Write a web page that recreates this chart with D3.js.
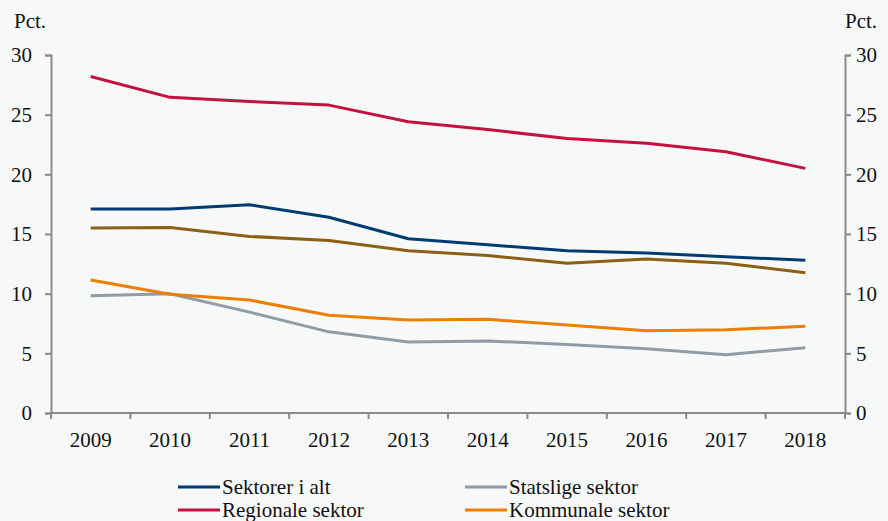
<!DOCTYPE html>
<html>
<head>
<meta charset="utf-8">
<script src="https://cdn.jsdelivr.net/npm/d3@7"></script>
<style>
  html, body { margin: 0; padding: 0; background: #f7f9f9; }
  svg { display: block; }
  svg text { font-family: "Times New Roman", "Liberation Serif", "DejaVu Serif", "Noto Serif", Tinos, FreeSerif, serif; }
</style>
</head>
<body>
<svg id="chart" width="888" height="521"></svg>
<script>
const years = ["2009", "2010", "2011", "2012", "2013", "2014", "2015", "2016", "2017", "2018"];
const yTicks = [0, 5, 10, 15, 20, 25, 30];

const sektorerIAlt = [17.1, 17.1, 17.45, 16.4, 14.6, 14.1, 13.6, 13.4, 13.1, 12.8];
const regionaleSektor = [28.2, 26.45, 26.1, 25.8, 24.4, 23.75, 23.0, 22.6, 21.9, 20.5];
const statsligeSektor = [9.83, 10.0, 8.45, 6.8, 5.95, 6.04, 5.73, 5.39, 4.89, 5.47];
const kommunaleSektor = [11.15, 9.95, 9.47, 8.19, 7.8, 7.85, 7.38, 6.9, 6.98, 7.27];
const ukendtSektor = [15.5, 15.55, 14.8, 14.45, 13.6, 13.2, 12.55, 12.9, 12.55, 11.75];

// drawn in this order; brown series has no legend entry
const series = [
  { name: "Statslige sektor", values: statsligeSektor, color: "#8f9ca6" },
  { name: "Kommunale sektor", values: kommunaleSektor, color: "#ee7d00" },
  { name: null, values: ukendtSektor, color: "#8b5f14" },
  { name: "Sektorer i alt", values: sektorerIAlt, color: "#003b71" },
  { name: "Regionale sektor", values: regionaleSektor, color: "#c4113f" }
];

const legendItems = ["Sektorer i alt", "Statslige sektor", "Regionale sektor", "Kommunale sektor"];

const fontSize = 21;

const svg = d3.select("#chart");
const plotLeft = 51;
const plotRight = 845;
const plotTop = 55;
const plotBottom = 413;
const axisColor = "#8a8a8a";

const x = d3.scaleBand().domain(years).range([plotLeft, plotRight]);
const y = d3.scaleLinear().domain([0, 30]).range([plotBottom, plotTop]);

function styleAxis(g, labelX) {
  g.attr("font-family", null).attr("font-size", fontSize);
  g.select(".domain").attr("stroke", axisColor).attr("stroke-width", 2);
  g.selectAll(".tick line").attr("stroke", axisColor).attr("stroke-width", 2);
  g.selectAll("text").attr("x", labelX).attr("fill", "#111");
}

// left axis
svg.append("g")
  .attr("transform", `translate(${plotLeft},0)`)
  .call(d3.axisLeft(y).tickValues(yTicks).tickSize(6).tickSizeOuter(6))
  .call((g) => styleAxis(g, -19));

// right axis
svg.append("g")
  .attr("transform", `translate(${plotRight},0)`)
  .call(d3.axisRight(y).tickValues(yTicks).tickSize(6).tickSizeOuter(6))
  .call((g) => styleAxis(g, 11));

// x axis with ticks at band edges
const xAxisG = svg.append("g").attr("transform", `translate(0,${plotBottom})`);
xAxisG.append("line")
  .attr("x1", plotLeft).attr("x2", plotRight)
  .attr("stroke", axisColor).attr("stroke-width", 2);
const edges = years.map((d) => x(d)).concat([plotRight]);
xAxisG.selectAll(".edge")
  .data(edges)
  .join("line")
  .attr("x1", (d) => d).attr("x2", (d) => d)
  .attr("y1", 0).attr("y2", 6)
  .attr("stroke", axisColor).attr("stroke-width", 2);
xAxisG.selectAll(".lbl")
  .data(years)
  .join("text")
  .attr("x", (d) => x(d) + x.bandwidth() / 2)
  .attr("y", 34)
  .attr("text-anchor", "middle")
  .attr("font-size", fontSize)
  .attr("fill", "#111")
  .text((d) => d);

svg.append("text").attr("x", 14).attr("y", 28).attr("font-size", fontSize).attr("fill", "#111").text("Pct.");
svg.append("text").attr("x", 845).attr("y", 28).attr("font-size", fontSize).attr("fill", "#111").text("Pct.");

const line = d3.line()
  .x((d, i) => x(years[i]) + x.bandwidth() / 2)
  .y((d) => y(d));

svg.append("g")
  .selectAll("path")
  .data(series)
  .join("path")
  .attr("fill", "none")
  .attr("stroke", (d) => d.color)
  .attr("stroke-width", 3)
  .attr("stroke-linejoin", "round")
  .attr("d", (d) => line(d.values));

// legend
const legendPos = [
  { lx: 178, ly: 487 },
  { lx: 465, ly: 487 },
  { lx: 178, ly: 510 },
  { lx: 465, ly: 510 }
];
const legend = svg.append("g");
legendItems.forEach((name, i) => {
  const s = series.find((d) => d.name === name);
  const p = legendPos[i];
  legend.append("line")
    .attr("x1", p.lx).attr("x2", p.lx + 42)
    .attr("y1", p.ly).attr("y2", p.ly)
    .attr("stroke", s.color).attr("stroke-width", 3);
  legend.append("text")
    .attr("x", p.lx + 44)
    .attr("y", p.ly + 7)
    .attr("font-size", fontSize)
    .attr("fill", "#111")
    .text(name);
});
</script>
</body>
</html>
